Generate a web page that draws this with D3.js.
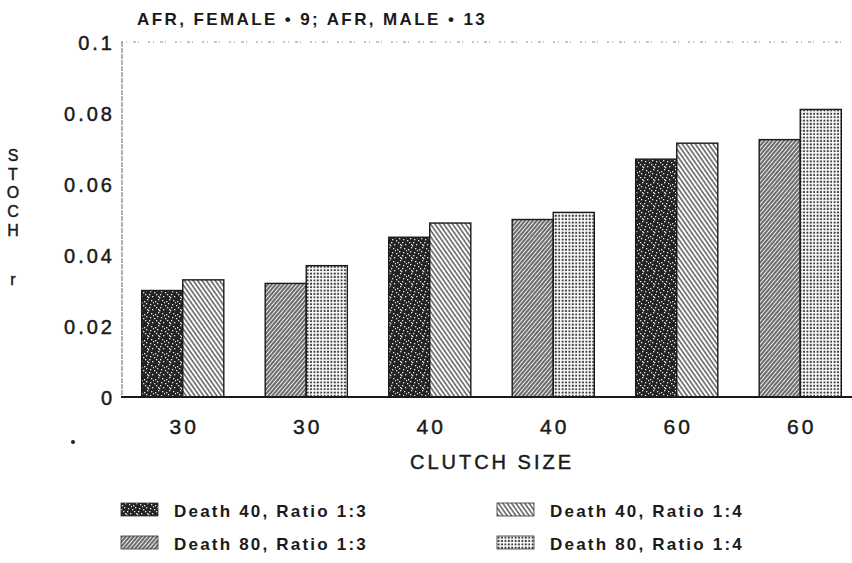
<!DOCTYPE html>
<html>
<head>
<meta charset="utf-8">
<script src="https://cdn.jsdelivr.net/npm/d3@7/dist/d3.min.js"></script>
<style>
  html, body { margin: 0; padding: 0; background: #fff; }
  svg { display: block; }
  text { font-family: "Liberation Sans", Arial, Helvetica, sans-serif; fill: #1a1a1a; }
  .heavy { stroke: #1a1a1a; stroke-width: 0.45px; }
</style>
</head>
<body>
<svg id="chart" width="852" height="563"></svg>
<script>
// ---- data ----
const title = "AFR, FEMALE \u2022 9; AFR, MALE \u2022 13";
const clutchLabels = ["30", "30", "40", "40", "60", "60"];
const groupDeath = ["40", "80", "40", "80", "40", "80"];
const ratio13Values = [0.030, 0.032, 0.045, 0.050, 0.067, 0.0725];
const ratio14Values = [0.033, 0.037, 0.049, 0.052, 0.0715, 0.081];
const yTicks = [0, 0.02, 0.04, 0.06, 0.08, 0.1];
const yTickLabels = ["0", "0.02", "0.04", "0.06", "0.08", "0.1"];
const yTitleLetters = ["S", "T", "O", "C", "H"];
const yTitleUnit = "r";
const xTitle = "CLUTCH SIZE";
const seriesNames = ["Death 40, Ratio 1:3", "Death 40, Ratio 1:4", "Death 80, Ratio 1:3", "Death 80, Ratio 1:4"];

// ---- setup ----
const svg = d3.select("#chart");
const plot = { left: 121, right: 862, top: 42, bottom: 397 };

const defs = svg.append("defs");
// speckled dark
const sp = defs.append("pattern").attr("id", "pSpeckle").attr("patternUnits", "userSpaceOnUse")
  .attr("width", 11).attr("height", 13);
sp.append("rect").attr("width", 11).attr("height", 13).attr("fill", "#232323");
[[1,2],[4,0],[7,5],[2,8],[9,10],[5,11],[8,1],[0,6],[6,8],[3,4],[10,3],[4,10]].forEach(([px,py]) =>
  sp.append("rect").attr("x", px).attr("y", py).attr("width", 1.3).attr("height", 1.3).attr("fill", "#e8e8e8"));
// "\" hatch light
const hb = defs.append("pattern").attr("id", "pHatchBack").attr("patternUnits", "userSpaceOnUse")
  .attr("width", 3.6).attr("height", 3.6).attr("patternTransform", "rotate(-35)");
hb.append("rect").attr("width", 3.6).attr("height", 3.6).attr("fill", "#fff");
hb.append("line").attr("x1", 1).attr("y1", 0).attr("x2", 1).attr("y2", 3.6).attr("stroke", "#333").attr("stroke-width", 1.2);
// "/" hatch dense
const hf = defs.append("pattern").attr("id", "pHatchFwd").attr("patternUnits", "userSpaceOnUse")
  .attr("width", 3).attr("height", 3).attr("patternTransform", "rotate(40)");
hf.append("rect").attr("width", 3).attr("height", 3).attr("fill", "#eee");
hf.append("line").attr("x1", 1).attr("y1", 0).attr("x2", 1).attr("y2", 3).attr("stroke", "#333").attr("stroke-width", 1.4);
// dot grid
const dg = defs.append("pattern").attr("id", "pDots").attr("patternUnits", "userSpaceOnUse")
  .attr("width", 3.4).attr("height", 3.4);
dg.append("rect").attr("width", 3.4).attr("height", 3.4).attr("fill", "#fff");
dg.append("rect").attr("x", 0.6).attr("y", 0.6).attr("width", 1.9).attr("height", 1.9).attr("fill", "#333");

const fills = {
  "Death 40, Ratio 1:3": "url(#pSpeckle)",
  "Death 40, Ratio 1:4": "url(#pHatchBack)",
  "Death 80, Ratio 1:3": "url(#pHatchFwd)",
  "Death 80, Ratio 1:4": "url(#pDots)"
};

const idx = d3.range(clutchLabels.length);
const x = d3.scaleBand().domain(idx).range([plot.left, plot.right])
  .paddingInner(0.335).paddingOuter(0.1675);
const xi = d3.scaleBand().domain(["r13", "r14"]).range([0, x.bandwidth()]);
const y = d3.scaleLinear().domain([0, 0.1]).range([plot.bottom, plot.top]);

// top dotted frame line
svg.append("line").attr("x1", plot.left).attr("x2", 850).attr("y1", y(0.1)).attr("y2", y(0.1))
  .attr("stroke", "#8a8a8a").attr("stroke-width", 1).attr("stroke-dasharray", "2,3,1,6,3,2,1,9");
// y axis line
svg.append("line").attr("x1", plot.left + 1).attr("x2", plot.left + 1).attr("y1", y(0.1)).attr("y2", y(0))
  .attr("stroke", "#6a6a6a").attr("stroke-width", 1).attr("stroke-dasharray", "5,1");

// y tick labels via axis
const yAxis = d3.axisLeft(y).tickValues(yTicks).tickSize(0).tickPadding(6)
  .tickFormat((d, i) => yTickLabels[i]);
const ya = svg.append("g").attr("transform", `translate(${plot.left},1)`).call(yAxis);
ya.select(".domain").remove();
ya.selectAll("text").attr("class", "heavy").style("font-family", "'Liberation Sans', Arial, sans-serif")
  .style("font-size", "20px").attr("fill", "#1a1a1a").attr("letter-spacing", "3");

// bars
const barData = [];
idx.forEach(i => {
  barData.push({ i, key: "r13", v: ratio13Values[i], s: `Death ${groupDeath[i]}, Ratio 1:3` });
  barData.push({ i, key: "r14", v: ratio14Values[i], s: `Death ${groupDeath[i]}, Ratio 1:4` });
});
svg.append("g").selectAll("rect").data(barData).join("rect")
  .attr("x", d => x(d.i) + xi(d.key))
  .attr("y", d => y(d.v))
  .attr("width", xi.bandwidth())
  .attr("height", d => y(0) - y(d.v))
  .attr("fill", d => fills[d.s])
  .attr("stroke", "#1a1a1a").attr("stroke-width", 1.4);

// baseline
svg.append("line").attr("x1", plot.left).attr("x2", 852).attr("y1", y(0)).attr("y2", y(0))
  .attr("stroke", "#1a1a1a").attr("stroke-width", 2);

// x tick labels via axis
const xAxis = d3.axisBottom(x).tickSize(0).tickPadding(22).tickFormat(i => clutchLabels[i]);
const xa = svg.append("g").attr("transform", `translate(1.5,${y(0)})`).call(xAxis);
xa.select(".domain").remove();
xa.selectAll("text").attr("class", "heavy").style("font-family", "'Liberation Sans', Arial, sans-serif")
  .style("font-size", "21px").attr("fill", "#1a1a1a").attr("letter-spacing", "3");

// x title
svg.append("text").attr("class", "heavy").attr("x", 492).attr("y", 469).attr("text-anchor", "middle")
  .style("font-size", "20px").attr("letter-spacing", "3").text(xTitle);
// stray dot
svg.append("circle").attr("cx", 73).attr("cy", 442).attr("r", 2).attr("fill", "#222");

// title
svg.append("text").attr("x", 137).attr("y", 25)
  .style("font-size", "17px").style("font-weight", "bold").attr("letter-spacing", "2.4").text(title);

// y title stacked letters
svg.append("g").selectAll("text").data(yTitleLetters).join("text").attr("class", "heavy")
  .attr("x", 13).attr("y", (d, i) => 161 + i * 18.7).attr("text-anchor", "middle")
  .style("font-size", "16px").text(d => d);
svg.append("text").attr("class", "heavy").attr("x", 13).attr("y", 285).attr("text-anchor", "middle")
  .style("font-size", "16px").text(yTitleUnit);

// legend
const legendPos = [
  { s: seriesNames[0], x: 121, y: 503 },
  { s: seriesNames[2], x: 121, y: 536 },
  { s: seriesNames[1], x: 497, y: 503 },
  { s: seriesNames[3], x: 497, y: 536 }
];
const lg = svg.append("g").selectAll("g").data(legendPos).join("g")
  .attr("transform", d => `translate(${d.x},${d.y})`);
lg.append("rect").attr("width", 37).attr("height", 13)
  .attr("fill", d => fills[d.s]).attr("stroke", "#333").attr("stroke-width", 0.8);
lg.append("text").attr("x", 53).attr("y", 14)
  .style("font-size", "17px").style("font-weight", "bold").attr("letter-spacing", "2.2").text(d => d.s);
</script>
</body>
</html>
